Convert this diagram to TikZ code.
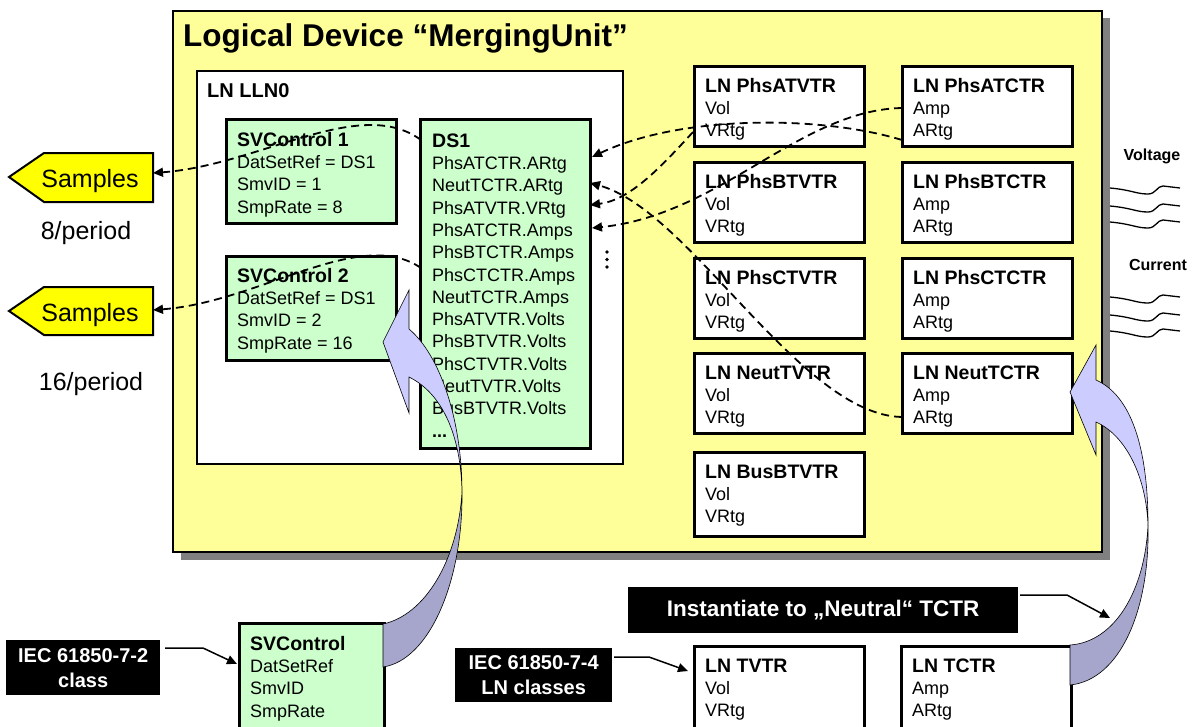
\documentclass[tikz,border=0pt]{standalone}
\usepackage{fontspec}
\setmainfont{Liberation Sans}
\usetikzlibrary{arrows.meta,calc}
\definecolor{ybg}{HTML}{FFFF99}
\definecolor{gbg}{HTML}{CCFFCC}
\definecolor{sampy}{HTML}{FFFF00}
\definecolor{shadowgray}{HTML}{808080}
\definecolor{arrlight}{RGB}{204,204,255}
\definecolor{arrdark}{RGB}{166,166,204}
\newcommand\btitle{\fontsize{19.5}{22.3}\selectfont\bfseries}
\newcommand\lnb[7]{%
  \node[lnbox, minimum height=#7pt] (#1) at (#2,#3) {};
  \node[txt] (#1t) at ($(#1.north west)+(12,12)$) {\rule{0pt}{15pt}{\btitle #4}\\#5\\#6};
}
\newcommand\wavy[1]{%
  \draw[wave] (#1) .. controls ++(22,2) and ++(-12,0) .. ++(38,6)
     .. controls ++(8,0) and ++(-6,0) .. ++(15,-8) -- ++(17,2);
}
\begin{document}
\begin{tikzpicture}[x=1pt,y=-1pt,
  >={Triangle[length=10pt,width=9pt]},
  lnbox/.style={draw, line width=2.5pt, fill=white, minimum width=170pt, anchor=north west, inner sep=0pt},
  gbox/.style={draw, line width=2.5pt, fill=gbg, anchor=north west, inner sep=0pt},
  txt/.style={font=\fontsize{18}{22.3}\selectfont, align=left, anchor=north west, inner sep=0pt},
  blk/.style={fill=black, text=white, font=\fontsize{20}{25}\selectfont\bfseries, align=center, anchor=north west, inner sep=0pt},
  dcon/.style={line width=1.8pt, dash pattern=on 8pt off 5pt, ->},
  scon/.style={line width=1.5pt, ->},
  wave/.style={line width=1.3pt},
  bigarr/.style={draw=black, line width=0.6pt},
  sampshape/.style={draw, line width=2pt, fill=sampy},
  ]
\useasboundingbox (0,0) rectangle (1201,726);
\clip (0,0) rectangle (1201,726);

% Logical device
\fill[shadowgray] (181,18) rectangle (1110,560);
\node[draw, line width=2pt, fill=ybg, minimum width=929pt, minimum height=541pt, anchor=north west, inner sep=0pt] (ld) at (172,10) {};
\node[anchor=base west, inner sep=0pt, font=\fontsize{31.5}{36}\selectfont\bfseries] (ldt) at (183,46) {Logical Device “MergingUnit”};

% LLN0
\node[draw, line width=2pt, fill=white, minimum width=426pt, minimum height=393pt, anchor=north west, inner sep=0pt] (lln0) at (196,70) {};
\node[anchor=base west, inner sep=0pt, font=\fontsize{20}{24}\selectfont\bfseries] (lln0t) at (207,97) {LN LLN0};

\node[gbox, minimum width=170pt, minimum height=104pt] (sv1) at (225,118) {};
\node[txt] (sv1t) at (237,131) {\rule{0pt}{15pt}{\btitle SVControl 1}\\DatSetRef = DS1\\SmvID = 1\\SmpRate = 8};
\node[gbox, minimum width=170pt, minimum height=104pt] (sv2) at (225,255) {};
\node[txt] (sv2t) at (237,267) {\rule{0pt}{15pt}{\btitle SVControl 2}\\DatSetRef = DS1\\SmvID = 2\\SmpRate = 16};

\node[gbox, minimum width=170pt, minimum height=329pt] (ds1) at (419,118) {};
\node[txt] (ds1t) at (432,132) {\rule{0pt}{15pt}{\btitle DS1}\\PhsATCTR.ARtg\\NeutTCTR.ARtg\\PhsATVTR.VRtg\\PhsATCTR.Amps\\PhsBTCTR.Amps\\PhsCTCTR.Amps\\NeutTCTR.Amps\\PhsATVTR.Volts\\PhsBTVTR.Volts\\PhsCTVTR.Volts\\NeutTVTR.Volts\\BusBTVTR.Volts\\{\bfseries ...}};
% vertical ellipsis
\foreach \yy in {252,259.5,267} \fill (607,\yy) circle (1.8pt);

% LN boxes
\lnb{pav}{693}{65}{LN PhsATVTR}{Vol}{VRtg}{80}
\lnb{pbv}{693}{161}{LN PhsBTVTR}{Vol}{VRtg}{80}
\lnb{pcv}{693}{257}{LN PhsCTVTR}{Vol}{VRtg}{80}
\lnb{nv}{693}{352}{LN NeutTVTR}{Vol}{VRtg}{80}
\lnb{bv}{693}{451}{LN BusBTVTR}{Vol}{VRtg}{84}
\lnb{pac}{901}{65}{LN PhsATCTR}{Amp}{ARtg}{80}
\lnb{pbc}{901}{161}{LN PhsBTCTR}{Amp}{ARtg}{80}
\lnb{pcc}{901}{257}{LN PhsCTCTR}{Amp}{ARtg}{80}
\lnb{nc}{901}{352}{LN NeutTCTR}{Amp}{ARtg}{80}

% Samples
\path[sampshape] (9,177) -- (44,153) -- (153,153) -- (153,202) -- (44,202) -- cycle;
\node[anchor=base, inner sep=0pt, font=\fontsize{25}{30}\selectfont] (samp1) at (90,187) {Samples};
\path[sampshape] (9,311) -- (44,287) -- (153,287) -- (153,335) -- (44,335) -- cycle;
\node[anchor=base, inner sep=0pt, font=\fontsize{25}{30}\selectfont] (samp2) at (90,321) {Samples};
\node[anchor=base, inner sep=0pt, font=\fontsize{25}{30}\selectfont] (per1) at (86,239) {8/period};
\node[anchor=base, inner sep=0pt, font=\fontsize{25}{30}\selectfont] (per2) at (91,390) {16/period};

% Voltage / Current
\node[anchor=base, inner sep=0pt, font=\fontsize{16}{19}\selectfont\bfseries] (volt) at (1152,160) {Voltage};
\node[anchor=base, inner sep=0pt, font=\fontsize{16}{19}\selectfont\bfseries] (curr) at (1158,270) {Current};
\coordinate (w1) at (1110,188); \coordinate (w2) at (1110,206); \coordinate (w3) at (1110,222);
\coordinate (w4) at (1110,297); \coordinate (w5) at (1110,315); \coordinate (w6) at (1110,331);
\wavy{w1} \wavy{w2} \wavy{w3} \wavy{w4} \wavy{w5} \wavy{w6}

% dashed connectors
\coordinate (d1s) at (421,140); \coordinate (s1r) at (153,173);
\coordinate (d2s) at (421,268); \coordinate (s2r) at (153,310);
\draw[dcon] (d1s) .. controls (360,95) and (260,165) .. (s1r);
\draw[dcon] (d2s) .. controls (360,226) and (260,302) .. (s2r);

\coordinate (acArtg) at (902,140); \coordinate (dsA) at (592,157);
\coordinate (avVrtg) at (693,132); \coordinate (dsB) at (590,205);
\coordinate (acAmp) at (902,108); \coordinate (dsC) at (592,228);
\coordinate (ncArtg) at (902,417); \coordinate (dsD) at (590,183);
\draw[dcon] (acArtg) .. controls (820,115) and (680,115) .. (dsA);
\draw[dcon] (avVrtg) .. controls (660,168) and (630,200) .. (dsB);
\draw[dcon] (acAmp) .. controls (800,110) and (720,215) .. (dsC);
\draw[dcon] (ncArtg) .. controls (800,415) and (690,210) .. (dsD);

% bottom boxes
\node[blk, minimum width=154pt, minimum height=55pt] (iec72) at (6,640) {IEC 61850-7-2\\class};
\node[gbox, minimum width=145pt, minimum height=130pt] (svc) at (238,622) {};
\node[txt] (svct) at (250,635) {\rule{0pt}{15pt}{\btitle SVControl}\\DatSetRef\\SmvID\\SmpRate};
\node[blk, minimum width=157pt, minimum height=54pt] (iec74) at (455,648) {IEC 61850-7-4\\LN classes};
\node[blk, minimum width=390pt, minimum height=46pt, font=\fontsize{22.5}{26}\selectfont\bfseries] (inst) at (628,587) {Instantiate to „Neutral“ TCTR};
\lnb{tv}{693}{645}{LN TVTR}{Vol}{VRtg}{100}
\lnb{tc}{900}{645}{LN TCTR}{Amp}{ARtg}{100}

\coordinate (a72) at (165,648); \coordinate (b72) at (203,648); \coordinate (t72) at (237,664);
\draw[scon] (a72) -- (b72) -- (t72);
\coordinate (a74) at (614,657); \coordinate (b74) at (649,657); \coordinate (t74) at (688,671);
\draw[scon] (a74) -- (b74) -- (t74);
\coordinate (ai) at (1020,595); \coordinate (bi) at (1067,595); \coordinate (ti) at (1110,618);
\draw[scon] (ai) -- (bi) -- (ti);

% big arrow left (SVControl class -> SVControl 2)
\path[bigarr, fill=arrlight] (383,342) -- (409,290) -- (409,329)
  .. controls (440,355) and (462,420) .. (462,492)
  .. controls (461,440) and (445,395) .. (409,377) -- (409,413) -- cycle;
\path[bigarr, fill=arrdark] (462,492) .. controls (463,580) and (430,660) .. (383,667)
  -- (383,624) .. controls (425,615) and (458,560) .. (462,492);
% big arrow right (LN TCTR -> NeutTCTR)
\path[bigarr, fill=arrlight] (1070,392) -- (1096,345) -- (1096,380)
  .. controls (1130,395) and (1148,445) .. (1148,525)
  .. controls (1146,475) and (1125,435) .. (1096,422) -- (1096,455) -- cycle;
\path[bigarr, fill=arrdark] (1148,525) .. controls (1150,610) and (1120,680) .. (1070,685)
  -- (1070,645) .. controls (1115,642) and (1145,590) .. (1148,525);
\end{tikzpicture}
\end{document}
